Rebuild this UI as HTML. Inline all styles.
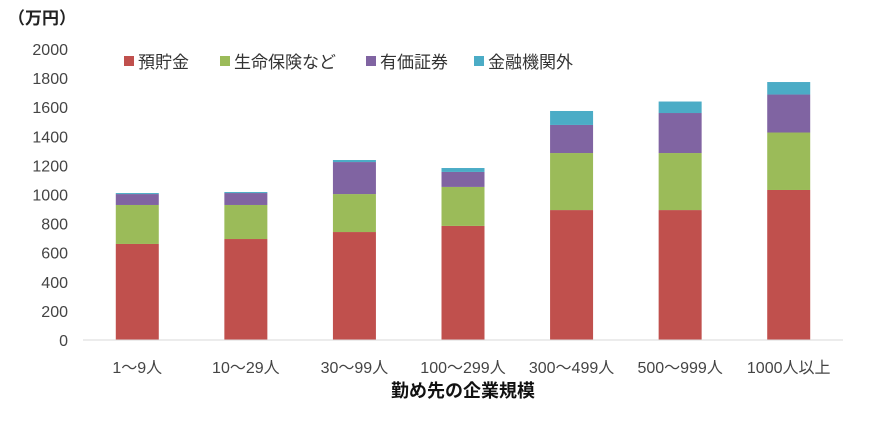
<!DOCTYPE html>
<html><head><meta charset="utf-8"><style>
body{margin:0;background:#fff;}
svg text{font-family:"Liberation Sans","Noto Sans CJK JP",sans-serif;}
</style></head><body>
<svg id="chart" width="870" height="418" viewBox="0 0 870 418" xmlns="http://www.w3.org/2000/svg">
<text x="8" y="24" font-size="17" font-weight="bold" fill="#222">（万円）</text>
<g id="yaxis"></g>
<g id="bars"></g>
<line x1="83" y1="340" x2="843" y2="340" stroke="#d9d9d9" stroke-width="1"/>
<g id="xaxis"></g>
<g id="legend"></g>
<text x="463" y="397" font-size="18" font-weight="bold" fill="#111" text-anchor="middle">勤め先の企業規模</text>
</svg>
<script>
const categories=["1〜9人","10〜29人","30〜99人","100〜299人","300〜499人","500〜999人","1000人以上"];
const deposits=[660,694,742,784,893,893,1031];
const insurance=[268,234,261,268,392,392,395];
const securities=[75,82,220,103,193,275,261];
const nonBank=[7,7,14,27,96,79,86];
const yTicks=[0,200,400,600,800,1000,1200,1400,1600,1800,2000];
const seriesNames=["預貯金","生命保険など","有価証券","金融機関外"];
const series=[deposits,insurance,securities,nonBank];
const colors=["#c0504d","#9bbb59","#8064a2","#4bacc6"];
const NS="http://www.w3.org/2000/svg";
const left=83,right=843,y0=340,yTop=49,yMax=2000;
const y=v=>y0-(v/yMax)*(y0-yTop);
const band=(right-left)/categories.length;
const xc=i=>left+band*(i+0.5);
const bw=43;
function mk(tag,attrs,parent){const e=document.createElementNS(NS,tag);for(const k in attrs)e.setAttribute(k,attrs[k]);parent.appendChild(e);return e;}
const ya=document.getElementById('yaxis');
yTicks.forEach(t=>{const e=mk('text',{x:68,y:y(t)+6,'font-size':16,fill:'#444','text-anchor':'end'},ya);


e.textContent=t;});
const bars=document.getElementById('bars');
categories.forEach((c,i)=>{let acc=0;series.forEach((s,j)=>{const v=s[i];
const r=mk('rect',{x:xc(i)-bw/2,y:y(acc+v),width:bw,height:y(acc)-y(acc+v),fill:colors[j]},bars);


acc+=v;});});
const xa=document.getElementById('xaxis');
categories.forEach((c,i)=>{const e=mk('text',{x:xc(i),y:373,'font-size':16,fill:'#444','text-anchor':'middle'},xa);


e.textContent=c;});
const lg=document.getElementById('legend');
const lx=[124,220,366,474];
seriesNames.forEach((n,j)=>{
const r=mk('rect',{x:lx[j],y:56,width:10,height:10,fill:colors[j]},lg);


const t=mk('text',{x:lx[j]+14,y:68,'font-size':17,fill:'#333'},lg);


t.textContent=n;});
</script>
</body></html>
